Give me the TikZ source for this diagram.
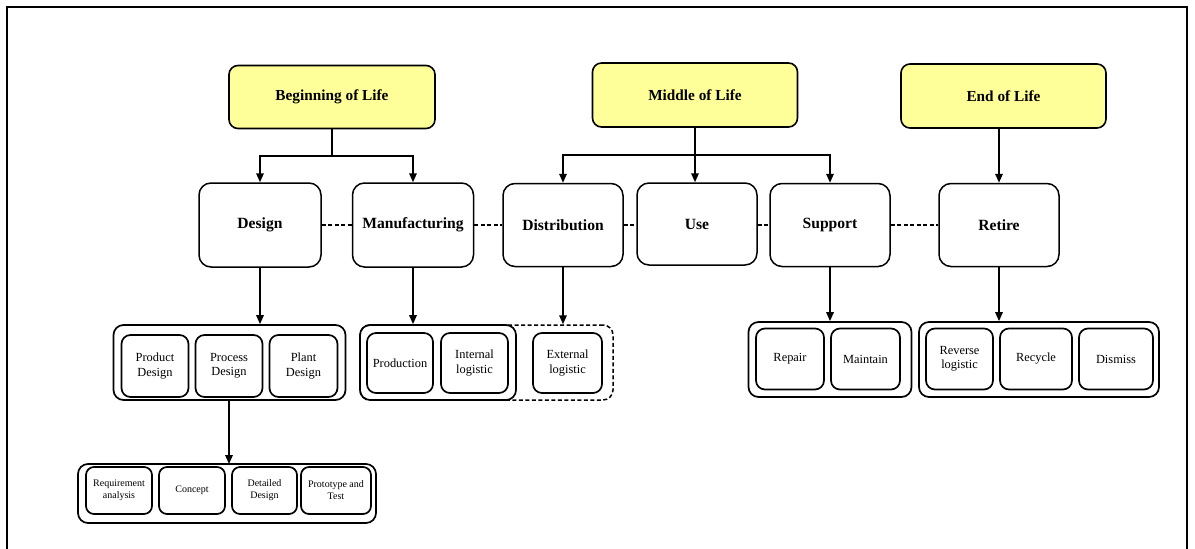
\documentclass[tikz,border=0pt]{standalone}
\usepackage{fontspec}
\setmainfont{Liberation Serif}
\usetikzlibrary{arrows.meta}
\definecolor{lifeyellow}{HTML}{FFFF99}
\tikzset{
  life/.style={draw, line width=1.6pt, rounded corners=9pt, fill=lifeyellow, font=\bfseries\fontsize{15.3}{17}\selectfont, inner sep=0pt},
  stage/.style={draw, line width=1.5pt, rounded corners=12pt, fill=white, font=\bfseries\fontsize{15.6}{17}\selectfont, inner sep=0pt},
  group/.style={draw, line width=1.7pt, rounded corners=10pt, inner sep=0pt},
  dgroup/.style={draw, line width=1.5pt, dash pattern=on 4pt off 2.5pt, rounded corners=10pt, inner sep=0pt},
  sub/.style={draw, line width=1.7pt, rounded corners=9pt, fill=white, align=center, font=\fontsize{12.4}{14.5}\selectfont, inner sep=0pt},
  subs/.style={draw, line width=1.7pt, rounded corners=8pt, fill=white, align=center, font=\fontsize{10}{12}\selectfont, inner sep=0pt},
  arr/.style={line width=1.6pt, -{Triangle[length=9pt,width=7.5pt]}},
  link/.style={line width=1.6pt},
  dlink/.style={line width=1.2pt, dash pattern=on 4pt off 2.5pt},
}
\begin{document}
\begin{tikzpicture}[x=1pt,y=-1pt]
\useasboundingbox (0,0) rectangle (1195,549);
\draw[line width=2pt] (7,560) -- (7,7) -- (1187,7) -- (1187,560);

% life phases
\node[life, minimum width=206pt, minimum height=63pt] (bol) at (332,97) {Beginning of Life};
\node[life, minimum width=205pt, minimum height=64pt] (mol) at (695,95) {Middle of Life};
\node[life, minimum width=205pt, minimum height=64pt] (eol) at (1003.5,96) {End of Life};

% stages
\node[stage, minimum width=122pt, minimum height=84pt] (design) at (260,225) {Design};
\node[stage, minimum width=121pt, minimum height=84pt] (manuf) at (413,225) {Manufacturing};
\node[stage, minimum width=120pt, minimum height=83pt] (distr) at (563,225) {Distribution};
\node[stage, minimum width=120pt, minimum height=82pt] (use) at (697,224) {Use};
\node[stage, minimum width=120pt, minimum height=83pt] (support) at (830,225) {Support};
\node[stage, minimum width=120pt, minimum height=83pt] (retire) at (999,225) {Retire};

% dashed links between stages
\draw[dlink] (design.east) -- (manuf.west);
\draw[dlink] (manuf.east) -- (distr.west);
\draw[dlink] (distr.east) -- (use.west |- distr.east);
\draw[dlink] (use.east |- support.west) -- (support.west);
\draw[dlink] (support.east) -- (retire.west);

% phase -> stage connectors
\coordinate (bolj) at (332,156);
\draw[link] (bol.south) -- (bolj);
\draw[arr] (bolj) -| (design.north);
\draw[arr] (bolj) -| (manuf.north);
\coordinate (molj) at (695,155);
\draw[arr] (mol.south) -- (mol.south |- use.north);
\draw[arr] (molj) -| (distr.north);
\draw[arr] (molj) -| (support.north);
\draw[arr] (retire.north |- eol.south) -- (retire.north);

% group 1: design
\node[group, minimum width=232pt, minimum height=75pt] (g1) at (229.5,362.5) {};
\node[sub, minimum width=67pt, minimum height=62pt] (pd) at (155,366) {Product\\Design};
\node[sub, minimum width=67pt, minimum height=62pt] (prd) at (229,366) {Process\\Design};
\node[sub, minimum width=68pt, minimum height=62pt] (pld) at (303.5,366) {Plant\\Design};

% group 2: manufacturing / distribution
\node[dgroup, minimum width=253pt, minimum height=75pt] (g2x) at (486.5,362.5) {};
\node[group, minimum width=156pt, minimum height=75pt] (g2) at (438,362.5) {};
\node[sub, minimum width=66pt, minimum height=60pt] (prod) at (400,363) {Production};
\node[sub, minimum width=67pt, minimum height=60pt] (il) at (474.5,363) {Internal\\logistic};
\node[sub, minimum width=69pt, minimum height=60pt] (el) at (567.5,363) {External\\logistic};

% group 3: detailed design phases
\node[group, minimum width=298pt, minimum height=59pt] (g3) at (227,493.5) {};
\node[subs, minimum width=66pt, minimum height=47pt] (ra) at (119,490.5) {Requirement\\analysis};
\node[subs, minimum width=66pt, minimum height=47pt] (con) at (192,490.5) {Concept};
\node[subs, minimum width=65pt, minimum height=47pt] (dd) at (264.5,490.5) {Detailed\\Design};
\node[subs, minimum width=70pt, minimum height=47pt] (pt) at (336,490.5) {Prototype and\\Test};

% group 4: support
\node[group, minimum width=163pt, minimum height=75pt] (g4) at (830,359.5) {};
\node[sub, minimum width=68pt, minimum height=61pt] (rep) at (790,359) {Repair};
\node[sub, minimum width=69pt, minimum height=61pt] (mai) at (865.5,359) {Maintain};

% group 5: retire
\node[group, minimum width=240pt, minimum height=75pt] (g5) at (1039,359.5) {};
\node[sub, minimum width=67pt, minimum height=61pt] (rl) at (959.5,359) {Reverse\\logistic};
\node[sub, minimum width=72pt, minimum height=61pt] (rec) at (1036,359) {Recycle};
\node[sub, minimum width=74pt, minimum height=61pt] (dis) at (1116,359) {Dismiss};

% stage -> group connectors
\draw[arr] (design.south) -- (design.south |- g1.north);
\draw[arr] (manuf.south) -- (manuf.south |- g2.north);
\draw[arr] (distr.south) -- (distr.south |- g2x.north);
\draw[arr] (229,400) -- (229,464);
\draw[arr] (support.south) -- (support.south |- g4.north);
\draw[arr] (retire.south) -- (retire.south |- g5.north);
\end{tikzpicture}
\end{document}
